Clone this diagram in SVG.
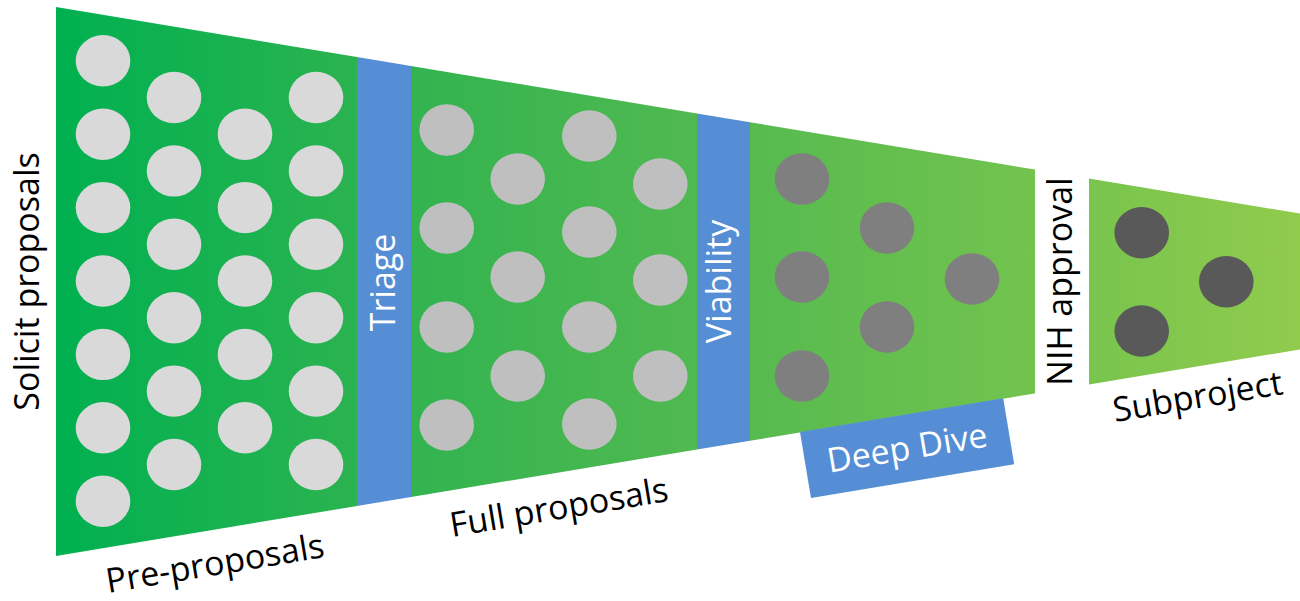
<svg xmlns="http://www.w3.org/2000/svg" width="1300" height="601" viewBox="0 0 1300 601">
  <style>
    .label { font-family: "Open Sans", "Noto Sans", "Liberation Sans", sans-serif; font-size: 34px; fill: #000000; }
    .gate-text { font-family: "Open Sans", "Noto Sans", "Liberation Sans", sans-serif; font-size: 34px; fill: #ffffff; }
    .gate { fill: #558ed5; }
    .funnel { fill: url(#funnelGrad); }
    .pre ellipse { fill: #d9d9d9; }
    .full ellipse { fill: #bfbfbf; }
    .deep ellipse { fill: #7f7f7f; }
    .sub ellipse { fill: #595959; }
  </style>
  <defs>
    <linearGradient id="funnelGrad" gradientUnits="userSpaceOnUse" x1="56" y1="0" x2="1300" y2="0">
      <stop offset="0" stop-color="#00b050"/>
      <stop offset="0.25" stop-color="#2db350"/>
      <stop offset="0.5" stop-color="#4fb850"/>
      <stop offset="0.78" stop-color="#72c34e"/>
      <stop offset="1" stop-color="#90cb4d"/>
    </linearGradient>
  </defs>

  <!-- Funnel body: top edge y = 7 + 0.1661(x-56), bottom edge y = 556 - 0.1661(x-56) -->
  <g id="stage-preproposals">
    <polygon class="funnel" points="56,7 357,57 357,506 56,556"/>
    <g class="pre">
      <ellipse cx="103" cy="60.8" rx="27.3" ry="25.7"/>
      <ellipse cx="103" cy="134.2" rx="27.3" ry="25.7"/>
      <ellipse cx="103" cy="207.6" rx="27.3" ry="25.7"/>
      <ellipse cx="103" cy="281" rx="27.3" ry="25.7"/>
      <ellipse cx="103" cy="354.4" rx="27.3" ry="25.7"/>
      <ellipse cx="103" cy="427.8" rx="27.3" ry="25.7"/>
      <ellipse cx="103" cy="501.2" rx="27.3" ry="25.7"/>
      <ellipse cx="174" cy="97.5" rx="27.3" ry="25.7"/>
      <ellipse cx="174" cy="170.9" rx="27.3" ry="25.7"/>
      <ellipse cx="174" cy="244.3" rx="27.3" ry="25.7"/>
      <ellipse cx="174" cy="317.7" rx="27.3" ry="25.7"/>
      <ellipse cx="174" cy="391.1" rx="27.3" ry="25.7"/>
      <ellipse cx="174" cy="464.5" rx="27.3" ry="25.7"/>
      <ellipse cx="245" cy="134.2" rx="27.3" ry="25.7"/>
      <ellipse cx="245" cy="207.6" rx="27.3" ry="25.7"/>
      <ellipse cx="245" cy="281" rx="27.3" ry="25.7"/>
      <ellipse cx="245" cy="354.4" rx="27.3" ry="25.7"/>
      <ellipse cx="245" cy="427.8" rx="27.3" ry="25.7"/>
      <ellipse cx="316" cy="97.5" rx="27.3" ry="25.7"/>
      <ellipse cx="316" cy="170.9" rx="27.3" ry="25.7"/>
      <ellipse cx="316" cy="244.3" rx="27.3" ry="25.7"/>
      <ellipse cx="316" cy="317.7" rx="27.3" ry="25.7"/>
      <ellipse cx="316" cy="391.1" rx="27.3" ry="25.7"/>
      <ellipse cx="316" cy="464.5" rx="27.3" ry="25.7"/>
    </g>
    <text class="label" transform="translate(108,593) rotate(-9.43)">Pre-proposals</text>
  </g>

  <g id="label-solicit">
    <text class="label" text-anchor="middle" transform="translate(39,281.5) rotate(-90)">Solicit proposals</text>
  </g>

  <g id="gate-triage">
    <polygon class="gate" points="357,57 411,66 411,497 357,506"/>
    <text class="gate-text" text-anchor="middle" transform="translate(395,282.5) rotate(-90)">Triage</text>
  </g>

  <g id="stage-full">
    <polygon class="funnel" points="411,66 697,113.5 697,449.5 411,497"/>
    <g class="full">
      <ellipse cx="446.7" cy="130" rx="27.3" ry="25.7"/>
      <ellipse cx="446.7" cy="228" rx="27.3" ry="25.7"/>
      <ellipse cx="446.7" cy="327" rx="27.3" ry="25.7"/>
      <ellipse cx="446.7" cy="425" rx="27.3" ry="25.7"/>
      <ellipse cx="517.7" cy="179" rx="27.3" ry="25.7"/>
      <ellipse cx="517.7" cy="277" rx="27.3" ry="25.7"/>
      <ellipse cx="517.7" cy="376" rx="27.3" ry="25.7"/>
      <ellipse cx="589.3" cy="136" rx="27.3" ry="25.7"/>
      <ellipse cx="589.3" cy="232" rx="27.3" ry="25.7"/>
      <ellipse cx="589.3" cy="327" rx="27.3" ry="25.7"/>
      <ellipse cx="589.3" cy="424" rx="27.3" ry="25.7"/>
      <ellipse cx="660.3" cy="184" rx="27.3" ry="25.7"/>
      <ellipse cx="660.3" cy="280" rx="27.3" ry="25.7"/>
      <ellipse cx="660.3" cy="376" rx="27.3" ry="25.7"/>
    </g>
    <text class="label" transform="translate(452,537) rotate(-9.43)">Full proposals</text>
  </g>

  <g id="gate-viability">
    <polygon class="gate" points="697,113.5 750,122.3 750,440.7 697,449.5"/>
    <text class="gate-text" text-anchor="middle" transform="translate(731,281.5) rotate(-90)">Viability</text>
  </g>

  <g id="stage-deepdive">
    <polygon class="funnel" points="750,122.3 1035,169.6 1035,393.4 750,440.7"/>
    <g class="deep">
      <ellipse cx="802" cy="179" rx="27.3" ry="25.7"/>
      <ellipse cx="802" cy="277" rx="27.3" ry="25.7"/>
      <ellipse cx="802" cy="376" rx="27.3" ry="25.7"/>
      <ellipse cx="887" cy="228" rx="27.3" ry="25.7"/>
      <ellipse cx="887" cy="327" rx="27.3" ry="25.7"/>
      <ellipse cx="972" cy="279" rx="27.3" ry="25.7"/>
    </g>
  </g>

  <g id="gate-deepdive" transform="translate(800,432) rotate(-9.43)">
    <rect class="gate" x="0" y="0" width="206" height="67"/>
    <text class="gate-text" text-anchor="middle" x="103" y="45">Deep Dive</text>
  </g>

  <g id="gate-nih">
    <text class="label" text-anchor="middle" transform="translate(1072,281.5) rotate(-90)">NIH approval</text>
  </g>

  <g id="stage-subproject">
    <polygon class="funnel" points="1089,178.6 1300,213.6 1300,349.4 1089,384.4"/>
    <g class="sub">
      <ellipse cx="1141.7" cy="232.7" rx="27.3" ry="25.7"/>
      <ellipse cx="1141.7" cy="331" rx="27.3" ry="25.7"/>
      <ellipse cx="1226.3" cy="281.7" rx="27.3" ry="25.7"/>
    </g>
    <text class="label" transform="translate(1115,422) rotate(-9.43)">Subproject</text>
  </g>

  <!-- the funnel stages abut directly; no connector lines are drawn -->
  <g id="connectors"/>
</svg>
